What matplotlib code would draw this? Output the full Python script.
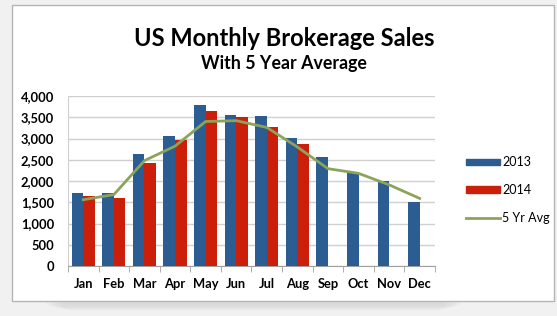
import matplotlib.pyplot as plt
import matplotlib.patches as mpatches
from matplotlib.lines import Line2D
import numpy as np

months = ['Jan', 'Feb', 'Mar', 'Apr', 'May', 'Jun', 'Jul', 'Aug', 'Sep', 'Oct', 'Nov', 'Dec']
sales_2013 = [1720, 1720, 2640, 3050, 3790, 3560, 3540, 3010, 2560, 2210, 1990, 1510]
sales_2014 = [1640, 1600, 2430, 2970, 3640, 3500, 3280, 2870]
avg_5yr = [1560, 1680, 2480, 2820, 3400, 3420, 3260, 2800, 2290, 2180, 1910, 1590]

blue = '#2b5c92'
red = '#cc1f0a'
green = '#8ba35a'

plt.rcParams['font.family'] = ['Lato', 'DejaVu Sans']

fig = plt.figure(figsize=(5.57, 3.16), dpi=100)
fig.patch.set_facecolor('#f1f1f1')

# soft shadow under the box
for i in range(4):
    fig.patches.append(mpatches.FancyBboxPatch(
        (0.08 + i * 0.01, 0.03 - i * 0.004), 0.75 - i * 0.02, 0.04,
        boxstyle='round,pad=0.0,rounding_size=0.02',
        transform=fig.transFigure, facecolor='#888888', edgecolor='none',
        alpha=0.05, zorder=0))
fig.patches.append(mpatches.Rectangle((12 / 557, 1 - 301 / 316), (554 - 12) / 557, (301 - 5) / 316,
                                      transform=fig.transFigure, facecolor='white',
                                      edgecolor='#b5b5b5', linewidth=1, zorder=1))

ax = fig.add_axes([68 / 557, 50 / 316, (435 - 68) / 557, (266 - 96) / 316])
ax.set_facecolor('none')
ax.set_zorder(2)

x = np.arange(len(months))
w = 0.38
ax.bar(x[:len(sales_2013)] - w / 2, sales_2013, width=w, color=blue, label='2013', zorder=3)
ax.bar(x[:len(sales_2014)] + w / 2, sales_2014, width=w, color=red, label='2014', zorder=3)
ax.plot(x, avg_5yr, color=green, linewidth=2, label='5 Yr Avg', zorder=4)

ax.set_xlim(-0.5, len(months) - 0.5)
ax.set_ylim(0, 4000)
ax.set_yticks(range(0, 4001, 500))
ax.set_yticklabels([f'{v:,}' for v in range(0, 4001, 500)], fontweight='bold', fontsize=9.3)
ax.set_xticks(x)
ax.set_xticklabels(months, fontweight='bold', fontsize=9.3)
ax.set_xticks(np.arange(-0.5, len(months), 1), minor=True)
ax.tick_params(axis='x', which='major', length=0, pad=9)
ax.tick_params(axis='x', which='minor', length=4, color='#a0a0a0')
ax.tick_params(axis='y', length=0, pad=10)
ax.grid(axis='y', color='#d0d0d0', linewidth=1, zorder=0)
for s in ['top', 'right']:
    ax.spines[s].set_visible(False)
ax.spines['left'].set_color('#d0d0d0')
ax.spines['bottom'].set_color('#a0a0a0')

handles = [mpatches.Patch(color=blue), mpatches.Patch(color=red),
           Line2D([0], [0], color=green, linewidth=2)]
leg = fig.legend(handles, ['2013', '2014', '5 Yr Avg'], loc='center left',
                 bbox_to_anchor=(455 / 557, 1 - 190 / 316), frameon=False,
                 fontsize=9, handlelength=2.7, handleheight=0.45,
                 labelspacing=1.25, handletextpad=0.2)

fig.text(284 / 557, 1 - 39 / 316, 'US Monthly Brokerage Sales', ha='center', va='center',
         fontsize=17, fontweight='bold')
fig.text(284 / 557, 1 - 64 / 316, 'With 5 Year Average', ha='center', va='center',
         fontsize=12.8, fontweight='bold')

fig.savefig('out.png', dpi=100, facecolor=fig.get_facecolor())
